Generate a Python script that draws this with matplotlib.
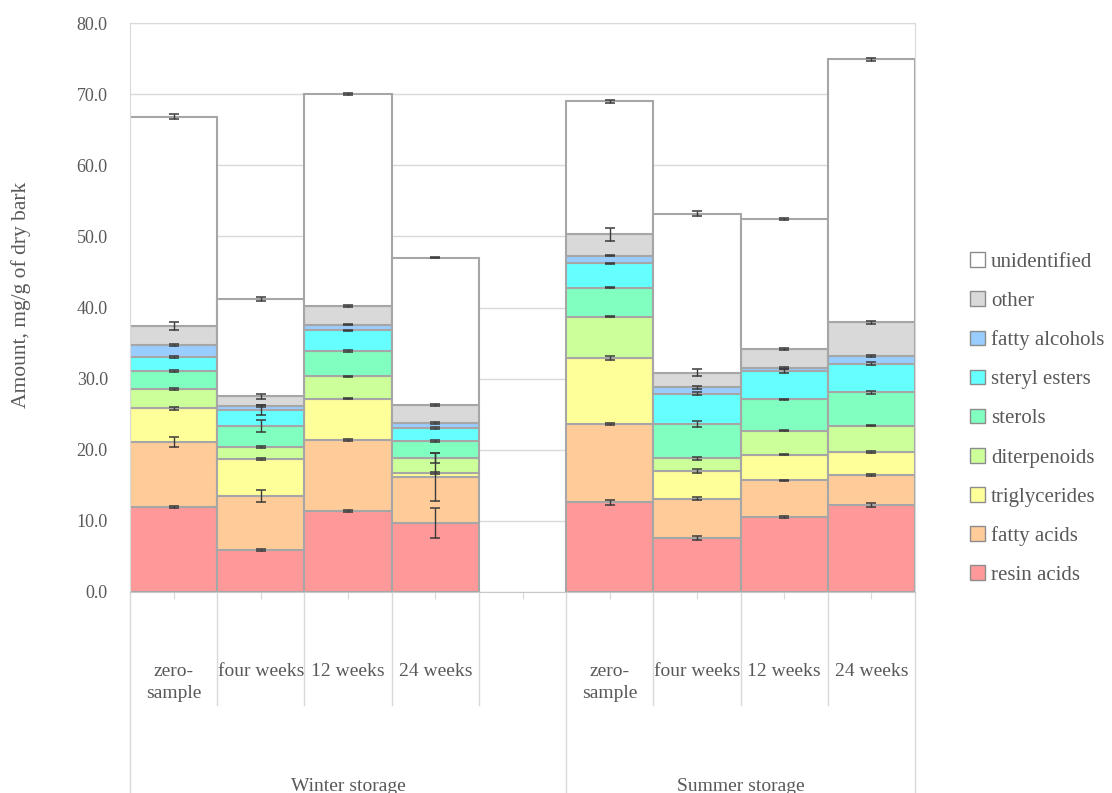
"""
Stacked extractive composition of bark, winter vs summer storage.
"""

import matplotlib

matplotlib.use("Agg")
import matplotlib.pyplot as plt
import numpy as np
from matplotlib.patches import Patch

# bar slots: 4 winter samples, one empty slot, 4 summer samples
CATEGORIES = ["zero-\nsample", "four weeks", "12 weeks", "24 weeks"] * 2
POSITIONS = [0, 1, 2, 3, 5, 6, 7, 8]
GROUPS = ["Winter storage", "Summer storage"]

COMPONENTS = ["resin acids", "fatty acids", "triglycerides", "diterpenoids", "sterols",
              "steryl esters", "fatty alcohols", "other", "unidentified"]

# amounts, mg/g of dry bark (segment heights)
resin_acids = [12.0, 5.9, 11.4, 9.7, 12.6, 7.6, 10.5, 12.2]
fatty_acids = [9.1, 7.6, 10.0, 6.5, 11.0, 5.5, 5.2, 4.2]
triglycerides = [4.7, 5.2, 5.8, 0.5, 9.3, 3.9, 3.6, 3.3]
diterpenoids = [2.8, 1.7, 3.1, 2.2, 5.8, 1.8, 3.4, 3.7]
sterols = [2.5, 2.9, 3.6, 2.3, 4.1, 4.8, 4.4, 4.7]
steryl_esters = [1.9, 2.3, 2.9, 1.8, 3.4, 4.3, 4.0, 4.0]
fatty_alcohols = [1.7, 0.6, 0.8, 0.8, 1.1, 0.9, 0.4, 1.1]
other = [2.7, 1.3, 2.6, 2.5, 3.0, 2.0, 2.7, 4.7]
unidentified = [29.4, 13.7, 29.8, 20.7, 18.7, 22.4, 18.2, 37.0]

# standard deviations
err_resin_acids = [0.15, 0.15, 0.1, 2.1, 0.3, 0.3, 0.15, 0.3]
err_fatty_acids = [0.7, 0.8, 0.15, 3.4, 0.15, 0.2, 0.1, 0.15]
err_triglycerides = [0.15, 0.15, 0.1, 0.15, 0.3, 0.3, 0.1, 0.15]
err_diterpenoids = [0.15, 0.15, 0.1, 0.7, 0.1, 0.2, 0.1, 0.1]
err_sterols = [0.15, 0.85, 0.1, 0.15, 0.1, 0.4, 0.1, 0.2]
err_steryl_esters = [0.15, 0.65, 0.1, 0.15, 0.1, 0.2, 0.3, 0.2]
err_fatty_alcohols = [0.15, 0.15, 0.1, 0.15, 0.1, 0.2, 0.2, 0.1]
err_other = [0.6, 0.3, 0.15, 0.2, 0.9, 0.5, 0.15, 0.15]
err_unidentified = [0.35, 0.25, 0.1, 0.1, 0.2, 0.3, 0.15, 0.2]

COLORS = ["#FF9999", "#FFCC99", "#FFFF99", "#CCFF99", "#80FFC0",
          "#66FFFF", "#99CCFF", "#D9D9D9", "#FFFFFF"]

TEXT = "#595959"
EDGE = "#A6A6A6"
GRID = "#D9D9D9"
plt.rcParams["font.family"] = ["Liberation Serif", "DejaVu Serif"]


def main():
    values = [resin_acids, fatty_acids, triglycerides, diterpenoids, sterols,
              steryl_esters, fatty_alcohols, other, unidentified]
    errors = [err_resin_acids, err_fatty_acids, err_triglycerides, err_diterpenoids,
              err_sterols, err_steryl_esters, err_fatty_alcohols, err_other,
              err_unidentified]

    fig = plt.figure(figsize=(11.12, 7.93), dpi=100)
    ax = fig.add_axes([130 / 1112, 201 / 793, 785 / 1112, 569 / 793])

    bottom = np.zeros(len(POSITIONS))
    tops = []
    for name, vals, color in zip(COMPONENTS, values, COLORS):
        vals = np.array(vals)
        ax.bar(POSITIONS, vals, bottom=bottom, width=1.0, color=color,
               edgecolor=EDGE, linewidth=1.5, label=name, zorder=2)
        bottom = bottom + vals
        tops.append(bottom.copy())

    # error bars sit at the top of every segment
    for top, err in zip(tops, errors):
        ax.errorbar(POSITIONS, top, yerr=err, fmt="none", ecolor="#3A3A3A",
                    elinewidth=1, capsize=3.5, capthick=1.1, zorder=4)

    ax.set_xlim(-0.5, 8.5)
    ax.set_ylim(0, 80)
    ax.set_yticks(np.arange(0, 81, 10))
    ax.set_yticklabels([f"{v:.1f}" for v in np.arange(0, 81, 10)])
    ax.yaxis.grid(True, color=GRID, linewidth=1)
    ax.set_axisbelow(True)
    ax.tick_params(axis="y", length=0, pad=16, labelsize=13, labelcolor=TEXT)
    ax.set_xticks(range(9))
    ax.tick_params(axis="x", length=5, color=GRID, labelbottom=False)
    for side in ["left", "right", "top"]:
        ax.spines[side].set_color(GRID)
    ax.spines["bottom"].set_color("#C8C8C8")

    # multi-level category axis below the plot
    trans = ax.get_xaxis_transform()
    for x in [0.5, 1.5, 2.5, 3.5, 5.5, 6.5, 7.5]:
        ax.plot([x, x], [0, -0.199], color=GRID, lw=1, transform=trans, clip_on=False)
    for x in [-0.5, 4.5, 8.5]:
        ax.plot([x, x], [0, -0.36], color=GRID, lw=1, transform=trans, clip_on=False)
    for pos, label in zip(POSITIONS, CATEGORIES):
        ax.text(pos, -0.124, label, transform=trans, ha="center", va="top",
                fontsize=14, color=TEXT, linespacing=1.45)
    ax.text(2.0, -0.327, GROUPS[0], transform=trans, ha="center", va="top",
            fontsize=14, color=TEXT)
    ax.text(6.5, -0.327, GROUPS[1], transform=trans, ha="center", va="top",
            fontsize=14, color=TEXT)

    fig.text(0.019, 0.628, "Amount, mg/g of dry bark", rotation=90,
             ha="center", va="center", fontsize=15.5, color=TEXT)

    handles = [Patch(facecolor=c, edgecolor="#8C8C8C", linewidth=1) for c in COLORS]
    leg = fig.legend(handles[::-1], COMPONENTS[::-1], loc="upper left",
                     bbox_to_anchor=(962 / 1112, 1 - 244 / 793), frameon=False,
                     fontsize=15, handlelength=0.7, handleheight=0.7,
                     handletextpad=0.3, labelspacing=0.935, borderaxespad=0)
    for t in leg.get_texts():
        t.set_color(TEXT)

    fig.savefig("out.png", dpi=100)
    return 0


if __name__ == "__main__":
    main()
